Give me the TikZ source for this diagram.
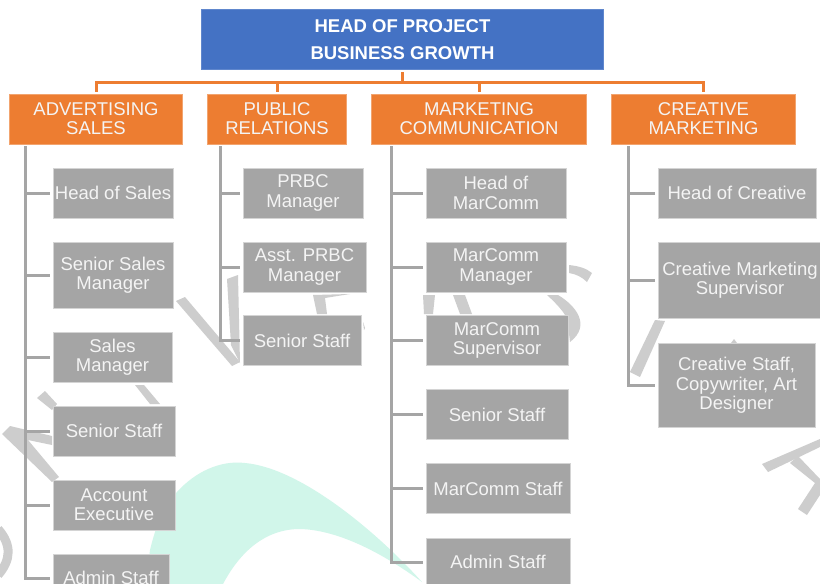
\documentclass[tikz,border=0pt]{standalone}
\usepackage{fontspec}
\setmainfont{Liberation Sans}
\definecolor{hblue}{HTML}{4472C4}
\definecolor{horange}{HTML}{ED7D31}
\definecolor{hgrey}{HTML}{A5A5A5}
\definecolor{hedge}{HTML}{D4D4D4}
\definecolor{wgrey}{HTML}{CDCDCD}
\definecolor{wteal}{HTML}{D1F6EA}
\definecolor{softwhite}{HTML}{F4F4F4}
\tikzset{
  headbox/.style={fill=hblue,draw=hblue!85!white,line width=.6pt,inner sep=0pt,text=white,align=center,font=\fontsize{18.5}{27}\selectfont\bfseries},
  deptbox/.style={fill=horange,draw=horange!70!white,line width=.6pt,inner sep=0pt,text=softwhite,align=center,minimum height=50pt,font=\fontsize{18.5}{19}\selectfont},
  staffbox/.style={fill=hgrey,draw=hedge,line width=.8pt,inner sep=0pt,text=softwhite,align=center,font=\fontsize{18.5}{19.4}\selectfont},
  oline/.style={draw=horange,line width=3pt,line join=miter},
  gline/.style={draw=hgrey,line width=3pt,line join=miter,shorten >=3pt},
  wstroke/.style={fill=wgrey,draw=none},
  warc/.style={draw=wgrey,line width=9pt}
}
\begin{document}
\begin{tikzpicture}[x=1pt,y=-1pt]
\useasboundingbox (0,0) rectangle (820,584);
\clip (0,0) rectangle (820,584);
\fill[white] (0,0) rectangle (820,584);
% watermark: teal swoosh
\fill[wteal] (150,550) .. controls (156,525) and (165,503) .. (177,492)
  .. controls (195,472) and (220,460) .. (245,463)
  .. controls (300,468) and (375,530) .. (422,582)
  .. controls (385,555) and (340,530) .. (300,529)
  .. controls (265,529) and (240,552) .. (223,584)
  -- (146,584) -- cycle;
% watermark: grey letter fragments
\fill[wstroke] (176,301) -- (185,297) -- (240,362) -- (232,366) -- cycle;
\fill[wstroke] (227,279) -- (238,275) -- (240,363) -- (231,345) -- cycle;
\fill[wstroke] (135,385) -- (144,385) -- (160,404) -- (150,404) -- cycle;
\fill[wstroke] (37,398) -- (45,391) -- (57,404) -- (52,410) -- cycle;
\fill[wstroke] (2,434) -- (10,426) -- (52,436) -- (52,445) -- (28,440) -- (59,477) -- (52,482) -- cycle;
\draw[warc] (-2,529) .. controls (12,545) and (11,560) .. (-2,575);
\fill[wstroke] (313,295) -- (350,294) -- (325,298) -- (327,314) -- (317,314) -- cycle;
\fill[wstroke] (363,322) -- (365,328) -- (364,330) -- cycle;
\fill[wstroke] (569,265) .. controls (578,266) and (586,268) .. (592,273) -- (587,282) .. controls (582,277) and (576,274) .. (569,273) -- cycle;
\fill[wstroke] (423,295) -- (435,295) -- (433,314) -- (424,314) -- cycle;
\fill[wstroke] (453,295) -- (465,295) -- (472,314) -- (460,314) -- cycle;
\fill[wstroke] (547,295) -- (558,295) .. controls (575,305) and (592,325) .. (570,342) -- (568,325) .. controls (570,318) and (558,305) .. (547,295) -- cycle;
\fill[wstroke] (655,320) -- (665,321) -- (640,377) -- (630,372) -- cycle;
\fill[wstroke] (731,343) -- (734,339) -- (737,343) -- cycle;
\fill[wstroke] (762,464) -- (820,439) -- (820,447) -- (768,472) -- cycle;
\fill[wstroke] (790,463) -- (798,456) -- (820,479) -- (820,495) -- (807,515) -- (798,509) -- (815,483) -- cycle;
% head and departments
\node[headbox,minimum width=402.5pt,minimum height=60.5pt] (head) at (402.5,39.5) {HEAD OF PROJECT\\BUSINESS GROWTH};
\node[deptbox,minimum width=173.5pt] (adv) at (96,119) {ADVERTISING\\SALES};
\node[deptbox,minimum width=139.5pt] (pub) at (277,119) {PUBLIC\\RELATIONS};
\node[deptbox,minimum width=215.5pt] (mar) at (479,119) {MARKETING\\COMMUNICATION};
\node[deptbox,minimum width=184.5pt] (cre) at (703.5,119) {CREATIVE\\MARKETING};
\coordinate (hub) at (402.5,82);
\coordinate (t1) at (25,146);
\coordinate (t2) at (220,146);
\coordinate (t3) at (391,146);
\coordinate (t4) at (628,146);
% column 1
\node[staffbox,minimum width=120pt,minimum height=50pt] (a1) at (113,193) {Head of Sales};
\node[staffbox,minimum width=120pt,minimum height=66pt] (a2) at (113,275) {Senior Sales\\Manager};
\node[staffbox,minimum width=119pt,minimum height=50pt] (a3) at (112.5,357) {Sales\\Manager};
\node[staffbox,minimum width=122pt,minimum height=50pt] (a4) at (114,431) {Senior Staff};
\node[staffbox,minimum width=122pt,minimum height=50pt] (a5) at (114,505) {Account\\Executive};
\node[staffbox,minimum width=116pt,minimum height=48pt] (a6) at (111,578) {Admin Staff};
% column 2
\node[staffbox,minimum width=120pt,minimum height=50pt] (b1) at (303,193) {PRBC\\Manager};
\node[staffbox,minimum width=123pt,minimum height=50pt] (b2) at (304.5,267) {Asst. PRBC\\Manager};
\node[staffbox,minimum width=118pt,minimum height=50pt] (b3) at (302,340.5) {Senior Staff};
% column 3
\node[staffbox,minimum width=140pt,minimum height=50pt] (c1) at (496,193) {Head of\\MarComm};
\node[staffbox,minimum width=140pt,minimum height=50pt] (c2) at (496,267) {MarComm\\Manager};
\node[staffbox,minimum width=142pt,minimum height=50pt] (c3) at (497,340.5) {MarComm\\Supervisor};
\node[staffbox,minimum width=142pt,minimum height=50pt] (c4) at (497,414.5) {Senior Staff};
\node[staffbox,minimum width=144pt,minimum height=50pt] (c5) at (498,488.5) {MarComm Staff};
\node[staffbox,minimum width=144pt,minimum height=48pt] (c6) at (498,562) {Admin Staff};
% column 4
\node[staffbox,minimum width=158pt,minimum height=50pt] (d1) at (737,193) {Head of Creative};
\node[staffbox,minimum width=164pt,minimum height=76pt] (d2) at (740,280.5) {Creative Marketing\\Supervisor};
\node[staffbox,minimum width=157pt,minimum height=84pt] (d3) at (736.5,385.5) {Creative Staff,\\Copywriter, Art\\Designer};
% connectors
\draw[oline,shorten <=2pt] (head.south) -- (hub);
\foreach \n in {adv,pub,mar,cre}{\draw[oline,shorten >=2pt] (hub) -| (\n.north);}
\foreach \n in {a1,a2,a3,a4,a5,a6}{\draw[gline] (t1) |- (\n.west);}
\foreach \n in {b1,b2,b3}{\draw[gline] (t2) |- (\n.west);}
\foreach \n in {c1,c2,c3,c4,c5,c6}{\draw[gline] (t3) |- (\n.west);}
\foreach \n in {d1,d2,d3}{\draw[gline] (t4) |- (\n.west);}
\end{tikzpicture}
\end{document}
